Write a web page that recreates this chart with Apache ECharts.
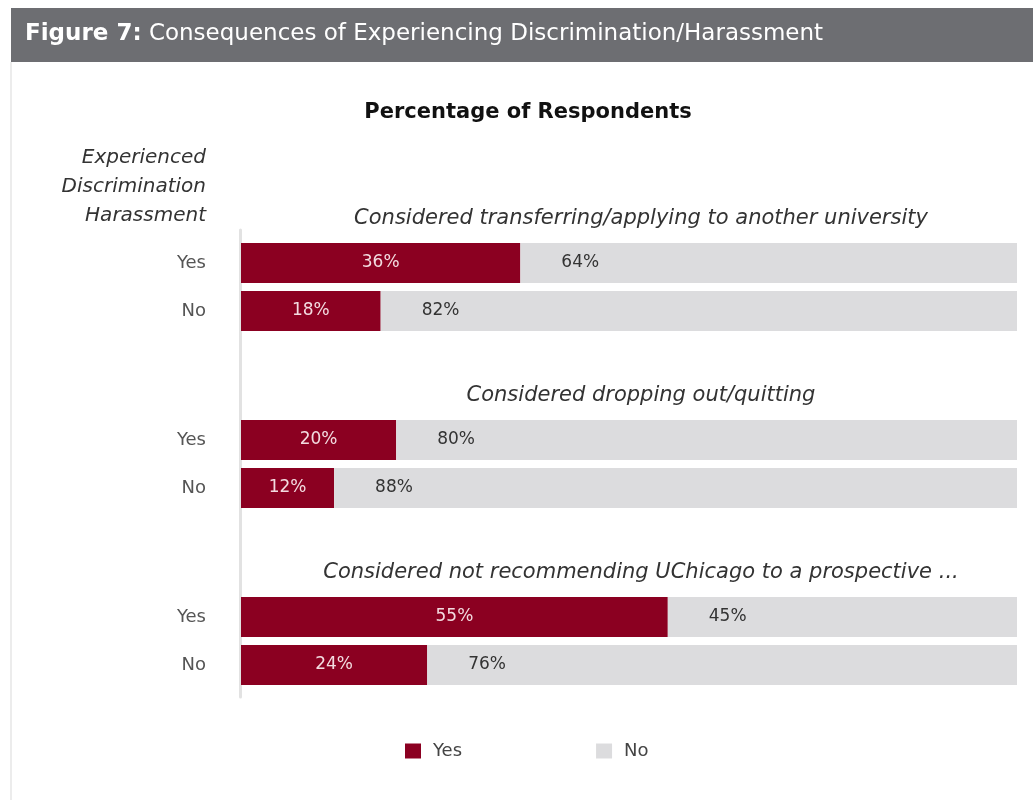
<!DOCTYPE html>
<html>
<head>
<meta charset="utf-8">
<script src="https://cdn.jsdelivr.net/npm/echarts@6/dist/echarts.min.js"></script>
<style>
html,body{margin:0;padding:0;background:#fff;}
#chart{width:1033px;height:800px;}
</style>
</head>
<body>
<div id="chart"></div>
<script>
// ---- Data ----
const groupTitles = [
  'Considered transferring/applying to another university',
  'Considered dropping out/quitting',
  'Considered not recommending UChicago to a prospective ...'
];
const categories = ['Yes', 'No'];
const yesValues1 = [36, 18];
const noValues1 = [64, 82];
const yesValues2 = [20, 12];
const noValues2 = [80, 88];
const yesValues3 = [55, 24];
const noValues3 = [45, 76];
const seriesNames = ['Yes', 'No'];
const headerBold = 'Figure 7:';
const headerText = ' Consequences of Experiencing Discrimination/Harassment';
const mainTitle = 'Percentage of Respondents';
const axisHeader = 'Experienced\nDiscrimination\nHarassment';

const yesData = [yesValues1, yesValues2, yesValues3];
const noData = [noValues1, noValues2, noValues3];

const FONT = 'DejaVu Sans';
const RED = '#8b0021';
const GREY = '#dcdcde';

const gridTops = [239, 416, 593];
const grids = [], xAxes = [], yAxes = [], series = [], titles = [];

titles.push({
  text: mainTitle, left: 523, top: 97, textAlign: 'center',
  textStyle: { fontFamily: FONT, fontSize: 21, fontWeight: 'bold', color: '#111' }
});

gridTops.forEach((top, i) => {
  grids.push({ left: 241, width: 776, top: top, height: 96 });
  xAxes.push({ type: 'value', gridIndex: i, min: 0, max: 100, show: false });
  yAxes.push({
    type: 'category', gridIndex: i, data: categories, inverse: true,
    axisLine: { show: false }, axisTick: { show: false },
    axisLabel: { fontFamily: FONT, fontSize: 18, color: '#555', margin: 35 }
  });
  titles.push({
    text: groupTitles[i], left: 636, top: top - 36, textAlign: 'center',
    textStyle: { fontFamily: FONT, fontSize: 21, fontStyle: 'italic', fontWeight: 'normal', color: '#333' }
  });
  series.push({
    name: seriesNames[0], type: 'bar', stack: 'g' + i, xAxisIndex: i, yAxisIndex: i,
    data: yesData[i], barWidth: 40, itemStyle: { color: RED },
    label: { show: true, position: 'inside', formatter: '{c}%', fontFamily: FONT, fontSize: 17, color: '#f3dbe0' }
  });
  series.push({
    name: seriesNames[1], type: 'bar', stack: 'g' + i, xAxisIndex: i, yAxisIndex: i,
    data: noData[i], barWidth: 40, itemStyle: { color: GREY },
    label: { show: true, position: 'insideLeft', distance: 41, formatter: '{c}%', fontFamily: FONT, fontSize: 17, color: '#333' }
  });
});

// Full-height axis-line grid (decorative vertical line)
grids.push({ left: 240, width: 776, top: 230, height: 467 });
xAxes.push({ type: 'value', gridIndex: 3, min: 0, max: 100, show: false });
yAxes.push({
  type: 'category', gridIndex: 3, data: [''],
  axisLine: { show: true, lineStyle: { color: '#e2e2e2', width: 3 } },
  axisTick: { show: false }, axisLabel: { show: false }
});

const chart = echarts.init(document.getElementById('chart'), null, { renderer: 'canvas' });
chart.setOption({
  backgroundColor: '#fff',
  animation: false,
  title: titles,
  grid: grids,
  xAxis: xAxes,
  yAxis: yAxes,
  series: series,
  legend: {
    data: seriesNames, left: 400, top: 737, itemWidth: 16, itemHeight: 15, itemGap: 134,
    icon: 'rect',
    textStyle: { fontFamily: FONT, fontSize: 18, color: '#444', padding: [0, 0, 0, 7] }
  },
  graphic: [
    { type: 'rect', left: 11, top: 8, shape: { width: 1022, height: 54 }, style: { fill: '#6d6e72' }, z: 0 },
    { type: 'rect', left: 10, top: 62, shape: { width: 2, height: 738 }, style: { fill: '#ececec' }, z: 0 },
    {
      type: 'text', left: 25, top: 23, z: 10,
      style: {
        text: '{b|' + headerBold + '}{n|' + headerText + '}',
        rich: {
          b: { fontFamily: FONT, fontSize: 23, fontWeight: 'bold', fill: '#fff' },
          n: { fontFamily: FONT, fontSize: 23, fill: '#fff' }
        }
      }
    },
    {
      type: 'text', right: 1033 - 206, top: 143, z: 10,
      style: {
        text: axisHeader, textAlign: 'right', fontFamily: FONT, fontSize: 20,
        fontStyle: 'italic', fill: '#333', lineHeight: 29
      }
    }
  ]
});
</script>
</body>
</html>
